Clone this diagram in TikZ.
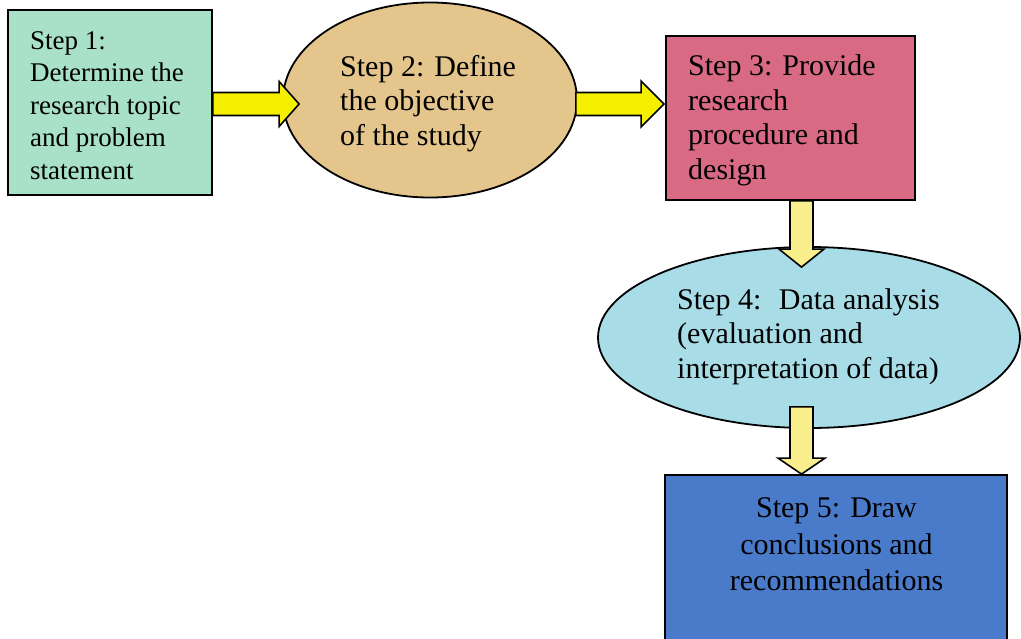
\documentclass[tikz,border=0pt]{standalone}
\usepackage{fontspec}
\setmainfont{Liberation Serif}
\usetikzlibrary{shapes.geometric,calc}

\definecolor{mint}{RGB}{168,225,200}
\definecolor{tan}{RGB}{228,197,140}
\definecolor{rosepink}{RGB}{217,106,132}
\definecolor{paleblue}{RGB}{168,221,232}
\definecolor{midblue}{RGB}{74,122,202}
\definecolor{brightyellow}{RGB}{245,240,0}
\definecolor{paleyellow}{RGB}{248,238,140}

\tikzset{
  outline/.style={draw=black, line width=1.8pt},
  stepbox/.style={outline, rectangle, inner sep=0pt},
  stepoval/.style={outline, ellipse, inner sep=0pt},
  steptext/.style={inner sep=0pt, align=left, font=\fontsize{30}{34.5}\selectfont},
  firsttext/.style={inner sep=0pt, align=left, font=\fontsize{27}{32.5}\selectfont},
  harrow/.style={draw=black, line width=1.6pt, line join=miter, fill=brightyellow},
  varrow/.style={draw=black, line width=1.6pt, line join=miter, fill=paleyellow}
}

\begin{document}
\begin{tikzpicture}[x=1pt,y=1pt]
\useasboundingbox (0,0) rectangle (1021,-638);
\clip (0,0) rectangle (1021,-638);

% process steps
\node[stepbox, fill=mint, minimum width=204, minimum height=185] (s1) at (110,-102.5) {};
\node[stepoval, fill=tan, minimum width=294, minimum height=195] (s2) at (430,-100) {};
\node[stepbox, fill=rosepink, minimum width=249, minimum height=164] (s3) at (790.5,-118) {};
\node[stepoval, fill=paleblue, minimum width=422, minimum height=181] (s4) at (809,-337.5) {};
\node[stepbox, fill=midblue, minimum width=342, minimum height=175] (s5) at (836,-562.5) {};

% guide lines for the arrow axes
\coordinate (hl) at (0,-104);
\coordinate (vl) at (801.5,0);

% step 1 -> step 2
\draw[harrow] let \p1=(s1.east |- hl), \p2=(s2.west |- hl) in
  (\x1,\y1+11.5) -- (\x2-3,\y1+11.5) -- (\x2-3,\y1+22.5) -- (\x2+17,\y1)
  -- (\x2-3,\y1-22.5) -- (\x2-3,\y1-11.5) -- (\x1,\y1-11.5) -- cycle;

% step 2 -> step 3
\draw[harrow] let \p1=(s2.east |- hl), \p2=(s3.west |- hl) in
  (\x1-2,\y1+11.5) -- (\x2-24,\y1+11.5) -- (\x2-24,\y1+23) -- (\x2-1,\y1)
  -- (\x2-24,\y1-23) -- (\x2-24,\y1-11.5) -- (\x1-2,\y1-11.5) -- cycle;

% step 3 -> step 4
\draw[varrow] let \p1=(s3.south -| vl), \p2=(s4.north -| vl) in
  (\x1-11.5,\y1) -- (\x1-11.5,\y2-3) -- (\x1-22.5,\y2-3) -- (\x1,\y2-21)
  -- (\x1+22.5,\y2-3) -- (\x1+11.5,\y2-3) -- (\x1+11.5,\y1) -- cycle;

% step 4 -> step 5
\draw[varrow] let \p1=(s4.south -| vl), \p2=(s5.north -| vl) in
  (\x1-11.5,\y1+22) -- (\x1-11.5,\y2+16) -- (\x1-23.5,\y2+16) -- (\x1,\y2)
  -- (\x1+23.5,\y2+16) -- (\x1+11.5,\y2+16) -- (\x1+11.5,\y1+22) -- cycle;

% labels
\node[firsttext, anchor=west] (t1) at (30,-105.5)
  {Step 1:\\Determine the\\research topic\\and problem\\statement};
\node[steptext, anchor=west] (t2) at (340,-103.5)
  {Step 2: Define\\the objective\\of the study};
\node[steptext, anchor=west] (t3) at (688,-120.5)
  {Step 3: Provide\\research\\procedure and\\design};
\node[steptext, anchor=west] (t4) at (677,-336.5)
  {Step 4:~ Data analysis\\(evaluation and\\interpretation of data)};
\node[steptext, align=center, font=\fontsize{30}{36.5}\selectfont] (t5) at (836.5,-544.3)
  {Step 5: Draw\\conclusions and\\recommendations};
\end{tikzpicture}
\end{document}
